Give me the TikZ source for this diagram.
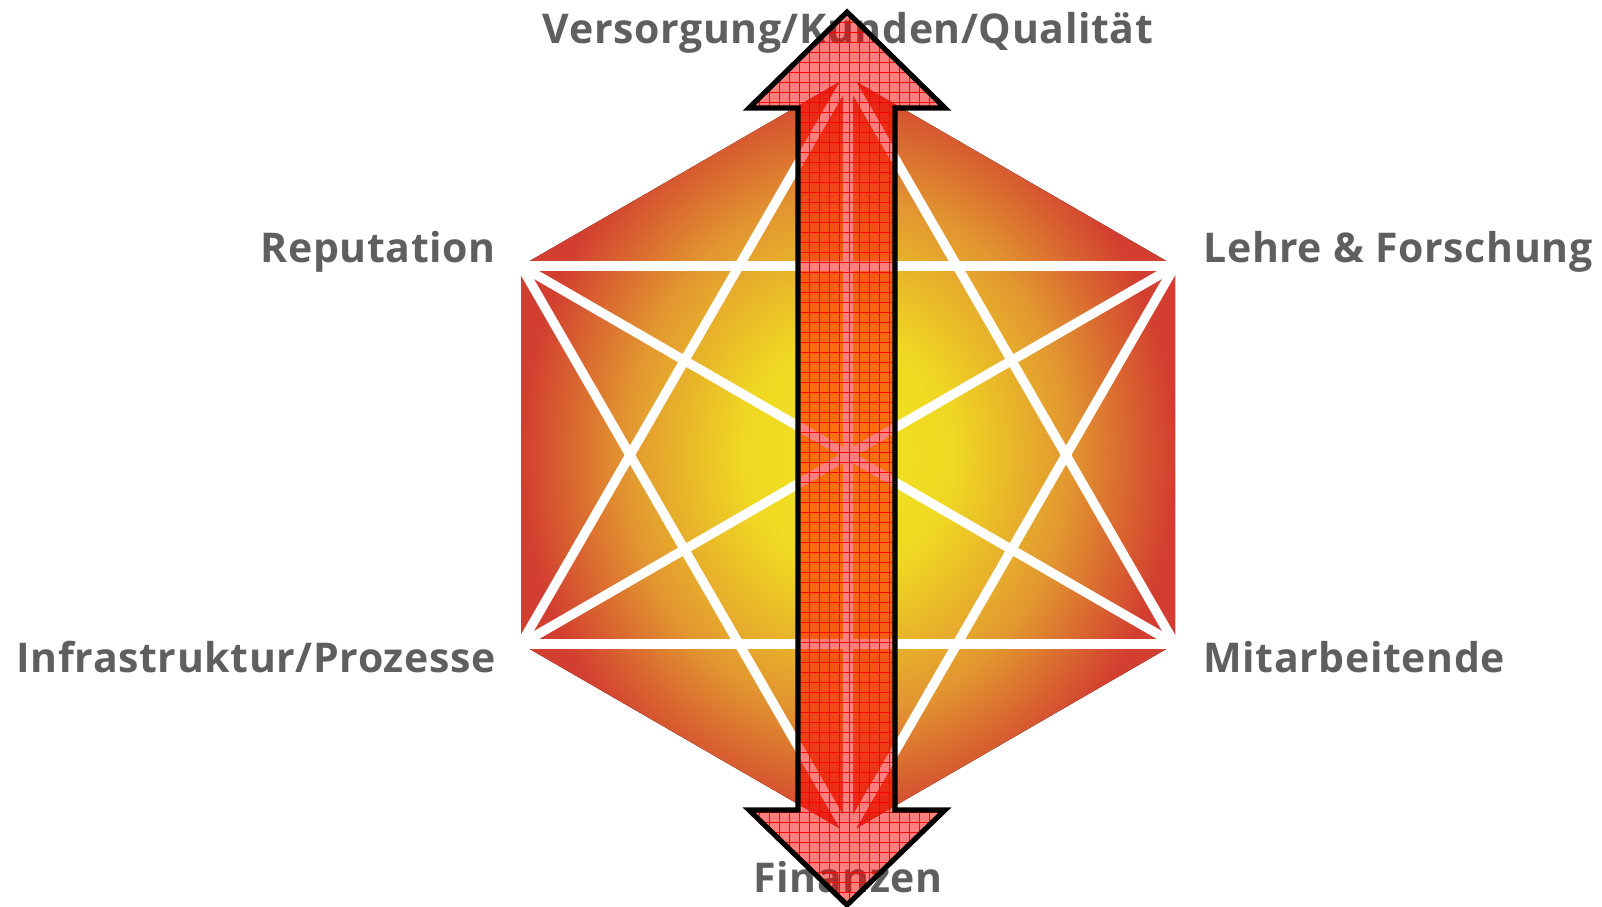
\documentclass[tikz,border=0pt]{standalone}
\usepackage{fontspec}
\setmainfont{Open Sans}
\usetikzlibrary{positioning}

\definecolor{labgray}{RGB}{95,95,95}
\definecolor{hexyellow}{RGB}{242,228,32}
\definecolor{hexorange}{RGB}{226,150,48}
\definecolor{hexred}{RGB}{210,62,48}
\pgfdeclareradialshading{hexglow}{\pgfpoint{0bp}{0bp}}{color(0bp)=(hexyellow); color(8bp)=(hexyellow!85!hexorange); color(17bp)=(hexorange); color(25bp)=(hexred); color(50bp)=(hexred)}

\begin{document}
\begin{tikzpicture}[x=0.5pt, y=-0.5pt,
  lab/.style={font=\addfontfeatures{LetterSpace=1.5}\bfseries\fontsize{20.5}{24}\selectfont, text=labgray, inner sep=0pt},
  chord/.style={white, line width=4.7pt, line cap=round},
  bigarrow/.style={draw=black, line width=2.6pt, line join=miter, fill=red, fill opacity=0.5},
  gridline/.style={red, line width=0.45pt}]
\useasboundingbox (0,0) rectangle (1602,906);
% hexagon corners
\coordinate (T) at (848,77);  \coordinate (UR) at (1175,266); \coordinate (LR) at (1175,644);
\coordinate (B) at (848,833); \coordinate (LL) at (521,644);  \coordinate (UL) at (521,266);
\fill[shading=hexglow] (T) -- (UR) -- (LR) -- (B) -- (LL) -- (UL) -- cycle;
\foreach \a/\b in {T/LR, T/LL, T/B, UR/B, UR/LL, UR/UL, LR/UL, LR/LL, B/UL}
  \draw[chord] (\a) -- (\b);
% labels
\node[lab, anchor=base] (top) at ([shift={(0,-34)}]T) {Versorgung/Kunden/Qualität};
\node[lab, anchor=base east] (rep) at ([shift={(-25,-4)}]UL) {Reputation};
\node[lab, anchor=base west] (lehre) at ([shift={(28,-4)}]UR) {Lehre \& Forschung};
\node[lab, anchor=base east] (infra) at ([shift={(-25,28)}]LL) {Infrastruktur/Prozesse};
\node[lab, anchor=base west] (mitarb) at ([shift={(28,28)}]LR) {Mitarbeitende};
\node[lab, anchor=base] (fin) at ([shift={(0,59)}]B) {Finanzen};
% double arrow
\coordinate (tip1) at (847,12);  \coordinate (tip2) at (847,905);
\coordinate (hl1) at (749,108);  \coordinate (hr1) at (945,108);
\coordinate (sl1) at (798,108);  \coordinate (sr1) at (895,108);
\coordinate (hl2) at (749,810);  \coordinate (hr2) at (945,810);
\coordinate (sl2) at (798,810);  \coordinate (sr2) at (895,810);
\draw[bigarrow, path picture={
    \foreach \gx in {749,759,...,946} \draw[gridline] (\gx,0) -- (\gx,906);
    \foreach \gy in {12,22,...,906} \draw[gridline] (700,\gy) -- (990,\gy);}]
  (tip1) -- (hr1) -- (sr1) -- (sr2) -- (hr2) -- (tip2) -- (hl2) -- (sl2) -- (sl1) -- (hl1) -- cycle;
\end{tikzpicture}
\end{document}
